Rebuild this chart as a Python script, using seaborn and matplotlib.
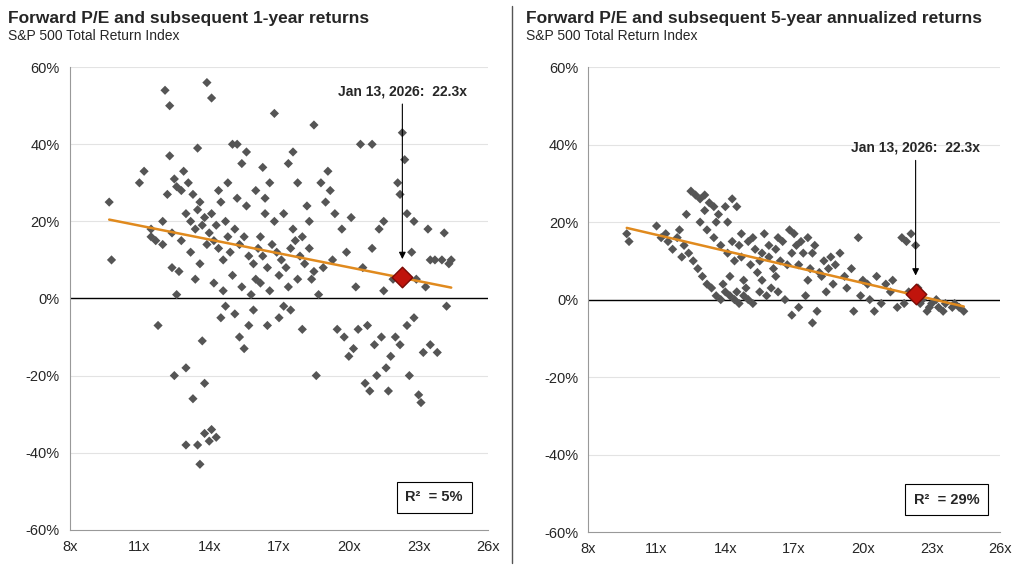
import pandas as pd
import numpy as np
import seaborn as sns
import matplotlib.pyplot as plt


# Forward P/E vs subsequent 1-year returns
pts1 = [(9.7,25),(9.8,10),(11,30),(11.2,33),(11.5,18),(11.5,16),(11.7,15),(11.8,-7),(12,20),(12.1,54),
        (12.3,50),(12.2,27),(12.3,37),(12.5,-20),(12.5,31),(12.6,29),(12.8,28),(12.4,8),(12.7,7),(13,-18),
        (13,-38),(13.3,-26),(13.6,-43),(13.5,-38),(13.8,-35),(14,-37),(14.1,-34),(14.3,-36),(13.8,-22),(13.7,-11),
        (13.9,56),(14.1,52),(13.5,39),(13,22),(13.2,20),(13.4,18),(13.6,25),(13.8,21),(14,17),(14.2,15),
        (14.4,13),(14.6,10),(14.8,16),(15,40),(15.2,40),(15.4,35),(15.6,38),(14.5,-5),(14.7,-2),(15.3,-10),
        (15.5,-13),(15.7,-7),(16,5),(16.2,16),(16.4,22),(16.6,30),(16.8,48),(16.5,-7),(17,-5),(17.2,-2),
        (17.4,35),(17.6,38),(17.8,30),(18,-8),(18.3,20),(18.5,45),(18.6,-20),(18.8,30),(19,25),(19.2,28),
        (19.5,-8),(19.8,-10),(20,-15),(20.2,-13),(20.5,40),(20.7,-22),(20.9,-24),(21,40),(21.2,-20),(21.3,18),
        (21.5,20),(21.6,-18),(21.8,-15),(22,-10),(22.1,30),(22.3,43),(22.4,36),(22.5,22),(22.6,-20),(22.8,-5),
        (23,-25),(23.1,-27),(23.2,-14),(23.4,18),(23.5,10),(23.7,10),(24,10),(24.1,17),(24.3,9),(24.2,-2),
        (22.7,12),(22.9,5),(23.3,3),(21.9,5),(22.2,27),(21.0,13),(20.6,8),(20.3,3),(20.1,21),(19.7,18),
        (19.3,10),(18.9,8),(18.7,1),(18.4,5),(12.9,33),(13.1,30),(13.3,27),(13.5,23),(13.7,19),(13.9,14),
        (14.1,22),(14.3,19),(14.5,25),(14.7,20),(14.9,12),(15.1,18),(15.3,14),(15.5,16),(15.7,11),(15.9,9),
        (16.1,13),(16.3,11),(16.5,8),(16.7,14),(16.9,12),(17.1,10),(17.3,8),(17.5,13),(17.7,15),(17.9,11),
        (18.1,9),(18.3,13),(18.5,7),(14.2,4),(14.6,2),(15,6),(15.4,3),(15.8,1),(16.2,4),(16.6,2),
        (17,6),(17.4,3),(17.8,5),(13.6,9),(13.2,12),(12.8,15),(12.4,17),(12,14),(14.4,28),(14.8,30),
        (15.2,26),(15.6,24),(16,28),(16.4,26),(16.8,20),(17.2,22),(17.6,18),(18,16),(18.2,24),(19.1,33),
        (19.4,22),(19.9,12),(20.4,-8),(21.1,-12),(21.4,-10),(21.7,-24),(22.2,-12),(22.5,-7),(23.5,-12),(23.8,-14),
        (20.8,-7),(21.5,2),(22.8,20),(24.4,10),(15.1,-4),(15.9,-3),(16.3,34),(17.5,-3),(13.4,5),(12.6,1)]
# Forward P/E vs subsequent 5-year annualized returns
pts5 = [(9.7,17),(9.8,15),(11,19),(11.2,16),(11.5,15),(11.7,13),(12,18),(12.2,14),(12.4,12),(12.5,28),
        (12.7,27),(12.9,26),(13.1,27),(13.3,25),(13.5,24),(13.7,22),(12.6,10),(12.8,8),(13,6),(13.2,4),
        (13.4,3),(13.6,1),(13.8,0),(14,2),(14.2,1),(14.4,0),(14.6,-1),(14.8,1),(15,0),(14,24),
        (14.3,26),(14.5,24),(14.1,20),(14.3,15),(14.6,14),(15,15),(15.3,13),(15.6,12),(15.9,14),(16.2,13),
        (16.5,15),(16.8,18),(17,17),(17.3,15),(17.6,16),(17.9,14),(15.2,-1),(15.5,2),(15.8,1),(16,3),
        (16.3,2),(16.6,0),(16.9,-4),(17.2,-2),(17.5,1),(17.8,-6),(18,-3),(18.2,6),(18.5,8),(18.7,4),
        (19,12),(19.3,3),(19.6,-3),(19.8,16),(20,5),(20.3,0),(20.5,-3),(20.8,-1),(21,4),(21.3,5),
        (21.5,-2),(21.7,16),(21.9,15),(22.1,17),(22.3,14),(22.5,-1),(22.8,-3),(23,-1),(23.3,-2),(23.6,-1),
        (23.9,-2),(24.2,-2),(24.4,-3),(22,2),(22.6,0),(23.2,0),(18.3,10),(17.4,12),(16.7,9),(16.1,8),
        (15.4,7),(14.8,5),(14.2,6),(12.3,22),(12.9,20),(13.2,18),(13.5,16),(13.8,14),(14.1,12),(14.4,10),
        (14.7,11),(15.1,9),(15.5,10),(15.9,11),(16.4,10),(16.9,12),(17.2,9),(17.7,8),(18.1,7),(18.6,11),
        (13.1,23),(13.6,20),(14.7,17),(15.2,16),(15.7,17),(16.3,16),(17.1,14),(17.8,12),(18.8,9),(19.2,6),
        (19.5,8),(20.2,4),(20.6,6),(21.2,2),(21.8,-1),(22.4,3),(22.9,-2),(23.5,-3),(24,-1),(11.4,17),
        (11.9,16),(12.1,11),(14.9,3),(15.6,5),(16.2,6),(17.6,5),(18.4,2),(19.9,1),(13.9,4),(14.5,2)]
df1 = pd.DataFrame(pts1, columns=["pe", "ret"])
df5 = pd.DataFrame(pts5, columns=["pe", "ret"])

fits = {"1y": (-1.2, 32.1), "5y": (-1.38, 31.9)}  # slope, intercept of trend line
current = {"1y": 5.5, "5y": 1.5}  # Jan 13, 2026 value

sns.set_style("white")
plt.rcParams["font.family"] = ["Liberation Sans", "DejaVu Sans"]

fig = plt.figure(figsize=(10.24, 5.74), dpi=100)
ax1 = fig.add_axes([0.068, 0.077, 0.409, 0.806])
ax2 = fig.add_axes([0.574, 0.073, 0.403, 0.810])

for ax, df, key, title, r2, ytxt in [(ax1, df1, "1y", "Forward P/E and subsequent 1-year returns", "5%", 52),
                                      (ax2, df5, "5y", "Forward P/E and subsequent 5-year annualized returns", "29%", 37.5)]:
    ax.set_ylim(-60, 60)
    ax.set_xlim(8, 26)
    ax.set_yticks(range(-60, 61, 20))
    ax.set_yticklabels([f"{t}%" for t in range(-60, 61, 20)], fontsize=10.5)
    ax.set_xticks(range(8, 27, 3))
    ax.set_xticklabels([f"{t}x" for t in range(8, 27, 3)], fontsize=10.5)
    for y in range(-40, 61, 20):
        ax.axhline(y, color="#e3e3e3", lw=0.8, zorder=0)
    ax.axhline(0, color="black", lw=1, zorder=1)
    for s in ["top", "right"]:
        ax.spines[s].set_visible(False)
    ax.spines["left"].set_color("#999999")
    ax.spines["bottom"].set_color("#999999")
    sns.scatterplot(data=df, x="pe", y="ret", ax=ax, marker="D", s=22, color="#555555",
                    edgecolor="none", zorder=2)
    xs = np.array([9.7, 24.4])
    m, b = fits[key]
    ax.plot(xs, m * xs + b, color="#e08a1e", lw=1.8, zorder=3)
    ax.scatter([22.3], [current[key]], marker="D", s=110, color="#c0140c", edgecolor="#7a0a05", zorder=4)
    ax.annotate("Jan 13, 2026:  22.3x", xy=(22.3, current[key] + 4), xytext=(22.3, ytxt),
                ha="center", va="bottom", fontsize=10, fontweight="bold",
                arrowprops=dict(arrowstyle="-|>", color="black", lw=0.8))
    ax.text(0.87, 0.07, f"R²  = {r2}", transform=ax.transAxes, ha="center", va="center",
            fontsize=10.5, fontweight="bold",
            bbox=dict(boxstyle="square,pad=0.6", facecolor="white", edgecolor="black", lw=0.8))
    ax.set_xlabel("")
    ax.set_ylabel("")
    pos = ax.get_position()
    fig.text(pos.x0 - 0.06, 0.955, title, fontsize=12.5, fontweight="bold", va="bottom")
    fig.text(pos.x0 - 0.06, 0.925, "S&P 500 Total Return Index", fontsize=10, va="bottom")

fig.add_artist(plt.Line2D([0.5, 0.5], [0.02, 0.99], color="#555555", lw=1))

fig.savefig("out.png", dpi=100)
